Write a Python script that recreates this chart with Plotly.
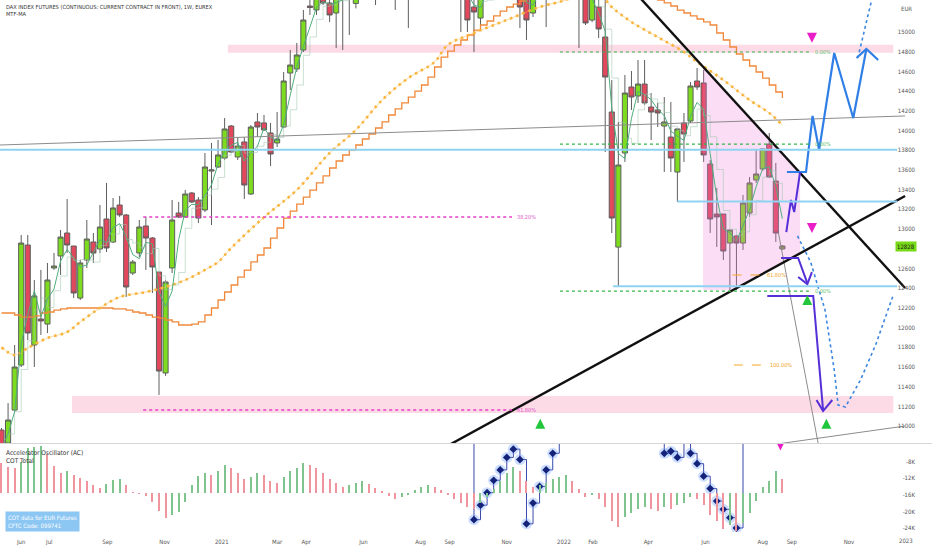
import numpy as np
import pandas as pd
import plotly.graph_objects as go

# ---------------- DATA ----------------
START = pd.Timestamp("2020-05-11")  # first weekly bar

opens = [10960,10829,11163,11620,12838,11823,12087,12036,12605,12727,
         12960,12828,12300,12686,12869,12798,13102,12869,13244,13143,
         12554,12757,13031,12909,12564,11539,12605,13163,13123,13366,
         13295,13194,13589,13630,13721,14046,13731,13884,13356,14087,
         14077,13975,13874,14036,14584,14625,14818,15264,15224,15355,
         15295,15193,15470,15420,15290,15430,15580,15650,15450,15600,
         15650,15550,15450,15650,15550,15750,15800,15850,15800,15700,
         15550,15450,15254,15142,15420,15550,15700,16000,16050,15500,
         15500,15193,15450,15600,15500,15750,15900,16050,15900,15450,
         15122,15254,14949,14188,12817,13772,14442,14351,14472,14239,
         14209,14046,13934,13579,14077,14097,14503,14483,13660,13153,
         13153,12858,12930,12858,13163,13498,13610,13863,13488,12798]
highs = [10981,11234,11823,12940,12940,12483,12585,12656,12757,12991,
         13305,12828,12686,13092,12960,13244,13468,13315,13336,13153,
         12686,13092,13123,12919,12564,12483,13295,13275,13397,13376,
         13325,13772,13874,13904,14127,14056,13934,13934,14056,14178,
         14158,14077,14188,14594,14818,14889,15224,15376,15477,15427,
         15376,15528,15600,15550,15450,15650,15720,15730,15650,15800,
         15700,15650,15700,15780,15800,15900,15950,15900,15850,15800,
         15700,15550,15420,15500,15600,15750,16050,16150,16250,15600,
         15550,15550,15700,15750,15800,16000,16100,16200,15950,15500,
         15550,15550,15350,14513,14087,14564,14604,14716,14716,14381,
         14280,14340,14290,14026,14178,14493,14635,14615,13701,13417,
         13153,12991,12940,13346,13528,13803,13813,13975,13671,12838]
lows = [10737,10798,11143,11600,11874,11600,11925,11945,12585,12534,
        12757,12300,12280,12605,12656,12757,12767,12858,13123,12311,
        12534,12716,12585,12351,11316,11509,12554,13112,13112,13265,
        13062,13173,13041,13620,13701,13772,13701,13305,13346,13934,
        13995,13640,13833,14026,14412,14594,14797,15173,15173,15274,
        15102,14838,14818,14970,15240,15380,15500,15274,15380,15500,
        15224,15380,15041,15450,15500,15700,15700,15650,15500,15400,
        15000,15000,14797,15020,15380,15480,15650,15900,15450,15040,
        14919,15152,15400,15050,15450,15700,15800,15750,14838,15071,
        15100,14939,13782,12960,12422,13681,14209,14280,14259,13904,
        14036,13579,13579,13275,13681,14077,14412,13681,12960,12818,
        12686,12382,12382,12788,13123,13468,13590,13518,12869,12788]
closes = [10778,11062,11600,12858,11945,12321,12067,12483,12625,12919,
          12838,12351,12656,12899,12757,13021,12808,13214,13143,12412,
          12666,13021,12909,12615,11559,12463,13092,13123,13356,13275,
          13112,13630,13600,13752,14016,13782,13843,13447,14036,14036,
          14006,13762,13914,14503,14665,14767,15122,15249,15376,15295,
          15173,15427,15380,15500,15420,15580,15650,15450,15600,15650,
          15550,15450,15650,15550,15750,15800,15850,15800,15700,15550,
          15500,15122,15203,15420,15550,15700,16000,16050,15520,15254,
          15122,15450,15600,15500,15750,15900,16050,15900,15450,15092,
          15450,15031,14543,13112,13650,14381,14340,14472,14280,14188,
          14178,14087,13721,14016,13965,14452,14442,13752,13102,13123,
          12777,12991,12858,13265,13468,13559,13813,13528,12960,12828]

# higher-timeframe MA (orange stair line), one value per week
htf_ma = [12148,12148,12128,12107,12107,12118,12148,12158,12178,12189,
          12199,12199,12199,12199,12199,12199,12199,12189,12189,12178,
          12158,12148,12128,12107,12097,12077,12057,12026,12026,12036,
          12057,12128,12199,12280,12361,12432,12513,12584,12666,12737,
          12808,12909,13011,13112,13183,13254,13325,13396,13468,13539,
          13620,13691,13752,13802,13853,13914,13965,14026,14087,14158,
          14219,14280,14340,14401,14462,14543,14645,14746,14807,14868,
          14919,14970,15020,15071,15112,15163,15213,15254,15284,15315,
          15366,15420,15470,15510,15540,15560,15580,15590,15600,15600,
          15590,15580,15560,15530,15500,15460,15420,15390,15360,15340,
          15325,15295,15264,15223,15193,15163,15132,15102,15071,14990,
          14919,14848,14777,14716,14655,14594,14533,14462,14391,14330]

# slow MA (orange dotted)
slow_ma_weeks = [0, 2, 4, 7, 10, 12, 15, 18, 22, 25, 28, 31, 33, 35, 40, 45, 50, 54,
                 58, 62, 66, 68, 72, 77, 82, 86, 89, 91, 93, 96, 100, 104, 106, 110,
                 114, 117, 119]
slow_ma_vals = [11800, 11722, 11793, 11894, 11955, 12057, 12199, 12310, 12361, 12412,
                12483, 12585, 12666, 12808, 13120, 13397, 13772, 14006, 14310, 14533,
                14696, 14868, 14990, 15122, 15254, 15325, 15420, 15400, 15254, 15102,
                14949, 14797, 14696, 14513, 14310, 14178, 14056]

# Accelerator Oscillator (histogram)
ac_vals = [300,260,250,310,450,460,470,380,270,200,
           220,180,150,120,80,50,90,130,140,80,
           10,-10,-30,-90,-180,-250,-220,-190,-90,80,
           170,200,180,220,280,250,200,140,160,200,
           180,120,100,160,220,250,300,280,250,200,
           140,100,60,80,100,120,90,50,20,-30,
           -60,-40,-20,30,60,80,60,30,-20,-60,
           -100,-140,-160,-100,-40,40,120,200,260,220,
           120,60,80,100,140,160,180,120,40,-40,
           -20,-60,-140,-280,-340,-240,-200,-160,-140,-160,
           -180,-140,-160,-120,-100,-40,-60,-120,-220,-280,
           -360,-320,-380,-300,-200,-80,60,120,220,140]

# COT Total (thousands of contracts)
cot_weeks = [71,72,73,74,75,76,77,78,79,80,81,82,83,84,85,
             100,101,102,103,104,105,106,107,108,109,110,111,112,113]
cot_vals = [2,-22,-18.5,-15.5,-12.5,-10,-7,-5,-7.5,-23,-18,-14,-10,-6,2,
            2,-6,-5.5,-7,2,-6,-8.5,-11.5,-14.5,-17.5,-19.5,-21.5,-24,2]

price_ticks = [p for p in range(11000, 15001, 200) if p != 12800]
cot_ticks = [-4, -8, -12, -16, -20, -24]
date_ticks = ["2020-06-01","2020-07-01","2020-09-01","2020-11-01","2021-01-01","2021-03-01",
              "2021-04-01","2021-06-01","2021-08-01","2021-09-01","2021-11-01","2022-01-01",
              "2022-02-01","2022-04-01","2022-06-01","2022-08-01","2022-09-01","2022-11-01"]
date_labels = ["Jun","Jul","Sep","Nov","2021","Mar","Apr","Jun","Aug","Sep","Nov","2022",
               "Feb","Apr","Jun","Aug","Sep","Nov"]
last_date_tick = ("2023-01-01", "2023")

# drawings (week index, price)
zone_top = (34.5, 135.9, 14790, 14870)
zone_bot = (10.75, 135.9, 11133, 11306)
blue_levels = [(-1, 136.5, 13805), (103, 136.5, 13280), (93.2, 136.5, 12420)]
green_levels = [(85.1, 123.5, 14797, "0.00%"), (85.1, 123.5, 13863, "0.00%"), (85.1, 123.5, 12371, "0.00%")]
magenta_levels = [(21.6, 77.8, 13123, "38.20%"), (21.6, 77.8, 11163, "61.80%")]
orange_levels = [(111.4, 115.5, 12534, "61.80%"), (111.6, 116.0, 11620, "100.00%")]
black_desc = ([95.8, 137.7], [15457, 12402])
black_asc = ([66.8, 137.7], [10757, 13336])
gray_lines = [([-0.3, 137.7], [13853, 14148]), ([117.1, 137.7], [10808, 11001]),
              ([118.4, 124.5], [12960, 10808])]
tri_w = [106.9, 121.7, 121.7, 111.1, 106.9, 106.9]
tri_p = [14655, 13569, 12767, 12382, 12382, 14655]
blue_path_w = [119.7, 122.6, 123.6, 124.6, 126.9, 129.8, 131.8]
blue_path_p = [13579, 13579, 14148, 13802, 14787, 14127, 14828]
blue_head_w = [130.3, 131.8, 133.6]
blue_head_p = [14736, 14828, 14716]
dot_u_w = [121.3, 123.3, 125.5, 126.9, 127.5, 128.6, 130.9, 133.2, 135.9]
dot_u_p = [12930, 12666, 12179, 11570, 11214, 11194, 11468, 11823, 12331]
dot_up_w = [130.5, 132.6]
dot_up_p = [14736, 15325]
purple_n_w = [119.6, 120.3, 120.8, 121.7]
purple_n_p = [12970, 13295, 13173, 13579]
purple_a_w = [118.8, 121.4, 122.8]
purple_a_p = [12706, 12706, 12452]
purple_a_head_w = [121.4, 122.8, 123.5]
purple_a_head_p = [12513, 12442, 12564]
purple_b_w = [116.7, 123.7, 125.2]
purple_b_p = [12321, 12321, 11163]
purple_b_head_w = [124.2, 125.2, 126.6]
purple_b_head_p = [11265, 11153, 11265]
up_arrow_w = [82.1, 122.8, 125.7]
up_arrow_p = [11075, 12330, 11075]
down_arrow_w = [123.5, 123.5]
down_arrow_p = [14890, 12960]
cot_arrow_w = [118.7]
cot_arrow_v = [-5.3]
last_price = 12828

# ---------------- HELPERS ----------------
def wk(w):
    return [START + pd.Timedelta(days=float(v) * 7) for v in w]

n = len(closes)
weeks = list(range(n))
dates = wk(weeks)
s_close = pd.Series(closes)
ma_fast = s_close.rolling(3, min_periods=1).mean()
ma_box = s_close.rolling(4, min_periods=1).mean()

H_PLOT = 532.0
def py(ypx):
    return 1 - ypx / H_PLOT
def px(xpx):
    return xpx / 932.0

NARROW = "Liberation Sans Narrow, DejaVu Sans Condensed, Arial Narrow, Liberation Sans, sans-serif"

fig = go.Figure()

# AC histogram
ac_colors = ["#f0949e"]
for k in range(1, n):
    ac_colors.append("#7fc48f" if ac_vals[k] >= ac_vals[k - 1] else "#f0949e")
fig.add_trace(go.Bar(x=dates, y=ac_vals, marker=dict(color=ac_colors, line_width=0),
                     width=1.2 * 86400000, yaxis="y3", hoverinfo="skip"))

# COT total step line with diamonds
cot_x, cot_y = [], []
prev = None
for w, v in zip(cot_weeks, cot_vals):
    if prev is not None and w - prev > 1:
        cot_x.append(None); cot_y.append(None)
    cot_x.append(wk([w])[0]); cot_y.append(v)
    prev = w
fig.add_trace(go.Scatter(x=cot_x, y=cot_y, yaxis="y2", mode="lines", line_shape="hv",
                         line=dict(color="#3949ab", width=1), connectgaps=False, hoverinfo="skip"))
fig.add_trace(go.Scatter(x=cot_x, y=cot_y, yaxis="y2", mode="markers",
                         marker=dict(symbol="circle", size=11, color="rgba(110,160,255,0.35)"),
                         hoverinfo="skip"))
fig.add_trace(go.Scatter(x=cot_x, y=cot_y, yaxis="y2", mode="markers",
                         marker=dict(symbol="diamond", size=6, color="#15227a"), hoverinfo="skip"))
fig.add_trace(go.Scatter(x=wk(cot_arrow_w), y=cot_arrow_v, yaxis="y2", mode="markers",
                         marker=dict(symbol="arrow-down", size=9, color="#e91ec8"), hoverinfo="skip"))

# pink triangle area
fig.add_trace(go.Scatter(x=wk(tri_w), y=tri_p, fill="toself", mode="lines",
                         line=dict(width=0), fillcolor="rgba(238,120,215,0.25)", hoverinfo="skip"))

# MAs
fig.add_trace(go.Scatter(x=dates, y=htf_ma, mode="lines", line_shape="hv",
                         line=dict(color="#f0883a", width=1.3), hoverinfo="skip"))
fig.add_trace(go.Scatter(x=wk(slow_ma_weeks), y=slow_ma_vals, mode="lines", line_shape="spline",
                         line=dict(color="rgba(247,180,60,0.6)", width=0.8), hoverinfo="skip"))
fig.add_trace(go.Scatter(x=wk(slow_ma_weeks), y=slow_ma_vals, mode="lines", line_shape="spline",
                         line=dict(color="#f8b640", width=2.6, dash="2.6px,4px"), hoverinfo="skip"))
fig.add_trace(go.Scatter(x=dates, y=ma_box, mode="lines", line_shape="hv",
                         line=dict(color="rgba(160,200,175,0.7)", width=0.8), hoverinfo="skip"))
fig.add_trace(go.Scatter(x=dates, y=ma_fast, mode="lines",
                         line=dict(color="#4fae7c", width=1), hoverinfo="skip"))

# candles
fig.add_trace(go.Candlestick(x=dates, open=opens, high=highs, low=lows, close=closes,
                             increasing=dict(fillcolor="#7ddc1f", line=dict(color="#5e5e5e", width=1)),
                             decreasing=dict(fillcolor="#e2475b", line=dict(color="#5e5e5e", width=1)),
                             whiskerwidth=0, hoverinfo="skip"))

shapes = []
for (w0, w1, p0, p1) in [zone_top, zone_bot]:
    shapes.append(dict(type="rect", xref="x", yref="y", x0=wk([w0])[0], x1=wk([w1])[0],
                       y0=p0, y1=p1, fillcolor="rgba(242,70,130,0.2)", line_width=0, layer="below"))
for (w0, w1, p) in blue_levels:
    shapes.append(dict(type="line", xref="x", yref="y", x0=wk([w0])[0], x1=wk([w1])[0],
                       y0=p, y1=p, line=dict(color="#8fd3f3", width=2)))
for (w0, w1, p, t) in green_levels:
    shapes.append(dict(type="line", xref="x", yref="y", x0=wk([w0])[0], x1=wk([w1])[0],
                       y0=p, y1=p, line=dict(color="#35b548", width=1.2, dash="dot")))
for (w0, w1, p, t) in magenta_levels:
    shapes.append(dict(type="line", xref="x", yref="y", x0=wk([w0])[0], x1=wk([w1])[0],
                       y0=p, y1=p, line=dict(color="#e83cc8", width=1.5, dash="dot")))
for (w0, w1, p, t) in orange_levels:
    shapes.append(dict(type="line", xref="x", yref="y", x0=wk([w0])[0], x1=wk([w1])[0],
                       y0=p, y1=p, line=dict(color="#f5a623", width=1, dash="dash")))
# pane separator
shapes.append(dict(type="line", xref="paper", yref="paper", x0=0, x1=1,
                   y0=py(443.5), y1=py(443.5), line=dict(color="#d6d6d6", width=1)))

def add_line(ws, ps, color, width, dash=None):
    fig.add_trace(go.Scatter(x=wk(ws), y=ps, mode="lines",
                             line=dict(color=color, width=width, dash=dash), hoverinfo="skip"))

for ws, ps in gray_lines:
    add_line(ws, ps, "#8c8c8c", 1)
add_line(*black_desc, "#111111", 2.4)
add_line(*black_asc, "#111111", 2.4)
add_line(blue_path_w, blue_path_p, "#2f7fe6", 2.2)
add_line(blue_head_w, blue_head_p, "#2f7fe6", 2.2)
add_line(dot_u_w, dot_u_p, "#3b86e0", 1.6, "dot")
add_line(dot_up_w, dot_up_p, "#3b86e0", 1.6, "dot")
add_line(purple_n_w, purple_n_p, "#5530d8", 2)
add_line(purple_a_w, purple_a_p, "#5530d8", 2)
add_line(purple_a_head_w, purple_a_head_p, "#5530d8", 2)
add_line(purple_b_w, purple_b_p, "#5530d8", 2)
add_line(purple_b_head_w, purple_b_head_p, "#5530d8", 2)

fig.add_trace(go.Scatter(x=wk(up_arrow_w), y=up_arrow_p, mode="markers",
                         marker=dict(symbol="arrow-up", size=10, color="#22c63c"), hoverinfo="skip"))
fig.add_trace(go.Scatter(x=wk(down_arrow_w), y=down_arrow_p, mode="markers",
                         marker=dict(symbol="arrow-down", size=10, color="#e91ec8"), hoverinfo="skip"))

ann = []
lab_font = dict(family=NARROW, size=5.5)
for (w0, w1, p, t) in green_levels:
    ann.append(dict(x=wk([w1 + 0.2])[0], y=p, xref="x", yref="y", text=t, showarrow=False,
                    xanchor="left", yanchor="middle", font=dict(lab_font, color="#5cbf6a")))
for (w0, w1, p, t) in magenta_levels:
    ann.append(dict(x=wk([w1 + 0.4])[0], y=p, xref="x", yref="y", text=t, showarrow=False,
                    xanchor="left", yanchor="middle", font=dict(lab_font, color="#e052c8")))
for (w0, w1, p, t) in orange_levels:
    ann.append(dict(x=wk([w1 + 0.8])[0], y=p, xref="x", yref="y", text=t, showarrow=False,
                    xanchor="left", yanchor="middle", font=dict(lab_font, color="#f0a020")))

ann.append(dict(x=px(4), y=py(2), xref="paper", yref="paper", showarrow=False, xanchor="left",
                yanchor="top", align="left",
                text="DAX INDEX FUTURES (CONTINUOUS: CURRENT CONTRACT IN FRONT), 1W, EUREX<br>MTF-MA",
                font=dict(family=NARROW, size=5.6, color="#333333")))
ann.append(dict(x=px(4), y=py(447), xref="paper", yref="paper", showarrow=False, xanchor="left",
                yanchor="top", align="left", text="Accelerator Oscillator (AC)<br>COT Total",
                font=dict(family=NARROW, size=6.5, color="#333333")))
ann.append(dict(x=px(5), y=py(511), xref="paper", yref="paper", showarrow=False, xanchor="left",
                yanchor="top", align="left", text="COT data for EUR Futures<br>CFTC Code: 099741",
                bgcolor="#8cc6f3", borderpad=2,
                font=dict(family=NARROW, size=6, color="#ffffff")))
ann.append(dict(x=px(906), y=py(9), xref="paper", yref="paper", showarrow=False, xanchor="center",
                yanchor="middle", text="EUR", font=dict(family=NARROW, size=6, color="#555555")))
ann.append(dict(x=px(906), y=last_price, xref="paper", yref="y", showarrow=False, xanchor="center",
                yanchor="middle", text=str(last_price), bgcolor="#78d916", borderpad=1,
                font=dict(family=NARROW, size=6, color="#1a1a1a")))
ann.append(dict(x=last_date_tick[0], y=py(540.5), xref="x", yref="paper", showarrow=False,
                xanchor="center", yanchor="middle", text=last_date_tick[1],
                font=dict(family=NARROW, size=6, color="#555555")))

x_range = [wk([-0.23])[0], wk([141.8])[0]]

fig.update_layout(
    width=932, height=550,
    margin=dict(l=0, r=0, t=0, b=18),
    paper_bgcolor="white", plot_bgcolor="white",
    showlegend=False, bargap=0, boxgap=0.22, boxgroupgap=0,
    shapes=shapes, annotations=ann,
    xaxis=dict(range=x_range, anchor="y2", domain=[0, 1], showgrid=False, zeroline=False,
               rangeslider=dict(visible=False), tickvals=date_ticks, ticktext=date_labels,
               ticks="outside", ticklen=4, tickcolor="rgba(0,0,0,0)",
               tickfont=dict(family=NARROW, size=6, color="#555555"), showline=False),
    yaxis=dict(domain=[py(443), 1], range=[15325 - 443 * 10.15, 15325], side="right",
               tickvals=price_ticks, ticktext=[str(p) for p in price_ticks],
               ticklabelposition="inside", ticklabelstandoff=14,
               tickfont=dict(family=NARROW, size=6, color="#555555"), showgrid=False,
               zeroline=False, ticks="", anchor="x"),
    yaxis2=dict(domain=[0, py(444)], range=[-4 - 87 / 4.15, -4 + 1 / 4.15], side="right",
                tickvals=cot_ticks, ticktext=[f"{v}K" for v in cot_ticks],
                ticklabelposition="inside", ticklabelstandoff=14,
                tickfont=dict(family=NARROW, size=6, color="#555555"), showgrid=False,
                zeroline=False, ticks="", anchor="x"),
    yaxis3=dict(overlaying="y2", range=[-390, 490], visible=False, anchor="x"),
)

fig.write_html("out.html", config={"displayModeBar": False},
               post_script="document.body.style.margin='0px';")
